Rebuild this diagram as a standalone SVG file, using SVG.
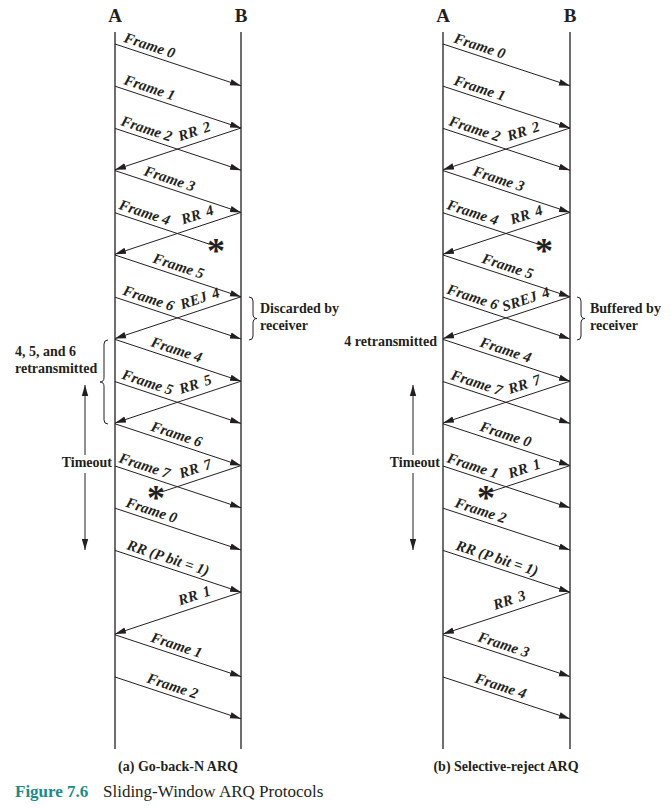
<svg xmlns="http://www.w3.org/2000/svg" width="671" height="809" viewBox="0 0 671 809">
<style>
.life{stroke:#231f20;stroke-width:1.3;fill:none}
.ln{stroke:#231f20;stroke-width:1;fill:none}
.ar{marker-end:url(#ah)}
.br{stroke:#231f20;stroke-width:1;fill:none}
.lbl{font-family:"Liberation Serif","Times New Roman",serif;font-weight:bold;font-style:italic;font-size:15px;fill:#231f20}
.rr{word-spacing:2px}
.txt{font-family:"Liberation Serif","Times New Roman",serif;font-weight:bold;font-size:14px;fill:#231f20}
.hdr{font-family:"Liberation Serif","Times New Roman",serif;font-weight:bold;font-size:19px;fill:#231f20;text-anchor:middle}
.ast{font-family:"Liberation Serif","Times New Roman",serif;font-weight:bold;font-size:36px;fill:#231f20;text-anchor:middle}
.fig{font-family:"Liberation Serif","Times New Roman",serif;font-weight:bold;font-size:17px;fill:#1a8a8c}
.cap{font-family:"Liberation Serif","Times New Roman",serif;font-size:17px;fill:#231f20}
</style>
<defs>
<marker id="ah" markerWidth="12" markerHeight="8" refX="11" refY="4" orient="auto" markerUnits="userSpaceOnUse"><path d="M0,0.8 L11,4 L0,7.2 z" fill="#231f20"/></marker>
<marker id="as" markerWidth="12" markerHeight="8" refX="0" refY="4" orient="auto" markerUnits="userSpaceOnUse"><path d="M11,0.8 L0,4 L11,7.2 z" fill="#231f20"/></marker>
</defs>
<rect width="671" height="809" fill="#ffffff"/>

<g id="left-A"><line class="life" x1="115" y1="32" x2="115" y2="749"/><text class="hdr" x="115" y="22">A</text></g>
<g id="left-B"><line class="life" x1="241" y1="32" x2="241" y2="749"/><text class="hdr" x="241" y="22">B</text></g>
<g id="right-A"><line class="life" x1="443" y1="32" x2="443" y2="749"/><text class="hdr" x="443" y="22">A</text></g>
<g id="right-B"><line class="life" x1="570" y1="32" x2="570" y2="749"/><text class="hdr" x="570" y="22">B</text></g>

<g id="connectors">
<line class="ln ar" x1="115" y1="44" x2="241" y2="85.8"/>
<line class="ln ar" x1="115" y1="86.2" x2="241" y2="128"/>
<line class="ln ar" x1="115" y1="128.4" x2="241" y2="170.2"/>
<line class="ln ar" x1="241" y1="128" x2="115" y2="169.8"/>
<line class="ln ar" x1="115" y1="170.6" x2="241" y2="212.4"/>
<line class="ln" x1="115" y1="212.8" x2="209" y2="244"/>
<line class="ln ar" x1="241" y1="212.4" x2="115" y2="254.2"/>
<line class="ln ar" x1="115" y1="255" x2="241" y2="296.8"/>
<line class="ln ar" x1="115" y1="297.2" x2="241" y2="339"/>
<line class="ln ar" x1="241" y1="296.8" x2="115" y2="338.6"/>
<line class="ln ar" x1="115" y1="339.4" x2="241" y2="381.2"/>
<line class="ln ar" x1="115" y1="381.6" x2="241" y2="423.4"/>
<line class="ln ar" x1="241" y1="381.2" x2="115" y2="423"/>
<line class="ln ar" x1="115" y1="423.8" x2="241" y2="465.6"/>
<line class="ln ar" x1="115" y1="466" x2="241" y2="507.8"/>
<line class="ln" x1="241" y1="465.6" x2="162" y2="491.8"/>
<line class="ln ar" x1="115" y1="508.2" x2="241" y2="550"/>
<line class="ln ar" x1="115" y1="550.4" x2="241" y2="592.2"/>
<line class="ln ar" x1="241" y1="592.2" x2="115" y2="634"/>
<line class="ln ar" x1="115" y1="634.8" x2="241" y2="676.6"/>
<line class="ln ar" x1="115" y1="677" x2="241" y2="718.8"/>
<line class="ln" x1="85" y1="385" x2="85" y2="455" marker-start="url(#as)"/>
<line class="ln ar" x1="85" y1="473" x2="85" y2="550"/>
<line class="ln ar" x1="443" y1="44" x2="570" y2="85.8"/>
<line class="ln ar" x1="443" y1="86.2" x2="570" y2="128"/>
<line class="ln ar" x1="443" y1="128.4" x2="570" y2="170.2"/>
<line class="ln ar" x1="570" y1="128" x2="443" y2="169.8"/>
<line class="ln ar" x1="443" y1="170.6" x2="570" y2="212.4"/>
<line class="ln" x1="443" y1="212.8" x2="537" y2="243.7"/>
<line class="ln ar" x1="570" y1="212.4" x2="443" y2="254.2"/>
<line class="ln ar" x1="443" y1="255" x2="570" y2="296.8"/>
<line class="ln ar" x1="443" y1="297.2" x2="570" y2="339"/>
<line class="ln ar" x1="570" y1="296.8" x2="443" y2="338.6"/>
<line class="ln ar" x1="443" y1="339.4" x2="570" y2="381.2"/>
<line class="ln ar" x1="443" y1="381.6" x2="570" y2="423.4"/>
<line class="ln ar" x1="570" y1="381.2" x2="443" y2="423"/>
<line class="ln ar" x1="443" y1="423.8" x2="570" y2="465.6"/>
<line class="ln ar" x1="443" y1="466" x2="570" y2="507.8"/>
<line class="ln" x1="570" y1="465.6" x2="491" y2="491.6"/>
<line class="ln ar" x1="443" y1="508.2" x2="570" y2="550"/>
<line class="ln ar" x1="443" y1="550.4" x2="570" y2="592.2"/>
<line class="ln ar" x1="570" y1="592.2" x2="443" y2="634"/>
<line class="ln ar" x1="443" y1="634.8" x2="570" y2="676.6"/>
<line class="ln ar" x1="443" y1="677" x2="570" y2="718.8"/>
<line class="ln" x1="413" y1="385" x2="413" y2="455" marker-start="url(#as)"/>
<line class="ln ar" x1="413" y1="473" x2="413" y2="550"/>
</g>

<g id="left-labels">
<text class="lbl" transform="translate(123,41.7) rotate(18.3)">Frame 0</text>
<text class="lbl" transform="translate(123,83.9) rotate(18.3)">Frame 1</text>
<text class="lbl" transform="translate(120,125.1) rotate(18.3)">Frame 2</text>
<text class="lbl rr" transform="translate(180,141.2) rotate(-18.3)">RR 2</text>
<text class="lbl" transform="translate(143,174.9) rotate(18.3)">Frame 3</text>
<text class="lbl" transform="translate(118,208.8) rotate(18.3)">Frame 4</text>
<text class="lbl rr" transform="translate(183,224.6) rotate(-18.3)">RR 4</text>
<text class="lbl" transform="translate(152,262.3) rotate(18.3)">Frame 5</text>
<text class="lbl" transform="translate(122,294.5) rotate(18.3)">Frame 6</text>
<text class="lbl rr" transform="translate(182,309.4) rotate(-18.3)">REJ 4</text>
<text class="lbl" transform="translate(150,346) rotate(18.3)">Frame 4</text>
<text class="lbl" transform="translate(121,378.6) rotate(18.3)">Frame 5</text>
<text class="lbl rr" transform="translate(181,394.1) rotate(-18.3)">RR 5</text>
<text class="lbl" transform="translate(150,430.4) rotate(18.3)">Frame 6</text>
<text class="lbl" transform="translate(118,462) rotate(18.3)">Frame 7</text>
<text class="lbl rr" transform="translate(181,478.5) rotate(-18.3)">RR 7</text>
<text class="lbl" transform="translate(125,506.5) rotate(18.3)">Frame 0</text>
<text class="lbl" transform="translate(126,549.1) rotate(18.3)">RR (P bit = 1)</text>
<text class="lbl rr" transform="translate(180,605.4) rotate(-18.3)">RR 1</text>
<text class="lbl" transform="translate(150,641.4) rotate(18.3)">Frame 1</text>
<text class="lbl" transform="translate(146,682.3) rotate(18.3)">Frame 2</text>
<text class="ast" x="216" y="263">*</text>
<text class="ast" x="156" y="510">*</text>
</g>

<g id="left-notes">
<path class="br" d="M249,297 Q253,297 253,301 L253,314 Q253,318.5 257,318.5 Q253,318.5 253,323 L253,336 Q253,340 249,340"/>
<text class="txt" x="260" y="313">Discarded by</text>
<text class="txt" x="260" y="330">receiver</text>
<path class="br" d="M108,340 Q104,340 104,344 L104,377.5 Q104,382 100,382 Q104,382 104,386.5 L104,420 Q104,424 108,424"/>
<text class="txt" x="15" y="356">4, 5, and 6</text>
<text class="txt" x="15" y="373">retransmitted</text>
<text class="txt" x="112" y="467" text-anchor="end">Timeout</text>
</g>

<g id="right-labels">
<text class="lbl" transform="translate(453,42.3) rotate(18.2)">Frame 0</text>
<text class="lbl" transform="translate(453,84.5) rotate(18.2)">Frame 1</text>
<text class="lbl" transform="translate(448,125.1) rotate(18.2)">Frame 2</text>
<text class="lbl rr" transform="translate(509,141.1) rotate(-18.2)">RR 2</text>
<text class="lbl" transform="translate(472,175.1) rotate(18.2)">Frame 3</text>
<text class="lbl" transform="translate(446,208.8) rotate(18.2)">Frame 4</text>
<text class="lbl rr" transform="translate(512,224.5) rotate(-18.2)">RR 4</text>
<text class="lbl" transform="translate(481,262.5) rotate(18.2)">Frame 5</text>
<text class="lbl" transform="translate(446,293.2) rotate(18.2)">Frame 6</text>
<text class="lbl rr" transform="translate(504,311.5) rotate(-18.2)">SREJ 4</text>
<text class="lbl" transform="translate(479,346.2) rotate(18.2)">Frame 4</text>
<text class="lbl" transform="translate(450,379) rotate(18.2)">Frame 7</text>
<text class="lbl rr" transform="translate(510,394) rotate(-18.2)">RR 7</text>
<text class="lbl" transform="translate(479,430.6) rotate(18.2)">Frame 0</text>
<text class="lbl" transform="translate(446,462) rotate(18.2)">Frame 1</text>
<text class="lbl rr" transform="translate(510,478.4) rotate(-18.2)">RR 1</text>
<text class="lbl" transform="translate(454,506.8) rotate(18.2)">Frame 2</text>
<text class="lbl" transform="translate(455,549.4) rotate(18.2)">RR (P bit = 1)</text>
<text class="lbl rr" transform="translate(495,609.9) rotate(-18.2)">RR 3</text>
<text class="lbl" transform="translate(477,641) rotate(18.2)">Frame 3</text>
<text class="lbl" transform="translate(474,682.2) rotate(18.2)">Frame 4</text>
<text class="ast" x="544" y="263">*</text>
<text class="ast" x="486" y="510">*</text>
</g>

<g id="right-notes">
<path class="br" d="M577,297 Q581,297 581,301 L581,314 Q581,318.5 585,318.5 Q581,318.5 581,323 L581,336 Q581,340 577,340"/>
<text class="txt" x="590" y="313">Buffered by</text>
<text class="txt" x="590" y="330">receiver</text>
<text class="txt" x="437" y="346" text-anchor="end">4 retransmitted</text>
<text class="txt" x="440" y="467" text-anchor="end">Timeout</text>
</g>

<g id="captions">
<text class="txt" x="178" y="771" text-anchor="middle">(a) Go-back-N ARQ</text>
<text class="txt" x="506" y="771" text-anchor="middle">(b) Selective-reject ARQ</text>
<text class="fig" x="15" y="797">Figure 7.6</text>
<text class="cap" x="103" y="797">Sliding-Window ARQ Protocols</text>
</g>
</svg>
